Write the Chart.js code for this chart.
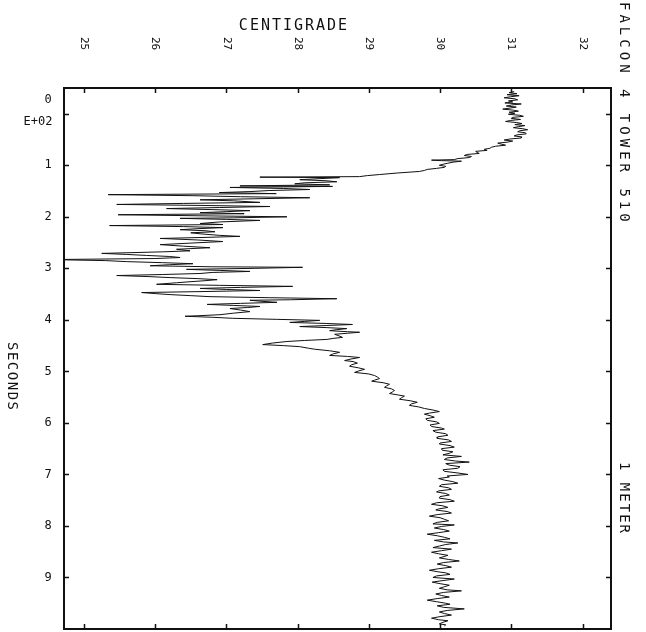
<!DOCTYPE html>
<html>
<head>
<meta charset="utf-8">
<script src="https://cdn.jsdelivr.net/npm/chart.js@4.4.1/dist/chart.umd.min.js"></script>
<style>
  body{margin:0;background:#fff}
  canvas{display:block}
</style>
</head>
<body>
<canvas id="myChart" width="646" height="632"></canvas>
<script>
// time in units of 1E+02 seconds top to bottom
// before the front passes
const secondsBefore = [-0.43,-0.41,-0.39,-0.37,-0.35,-0.33,-0.31,-0.29,-0.27,-0.25,
  -0.23,-0.21,-0.19,-0.17,-0.15,-0.13,-0.11,-0.09,-0.07,-0.05,
  -0.03,-0.01,0.01,0.03,0.05,0.07,0.09,0.11,0.13,0.15,
  0.17,0.19,0.21,0.23,0.25,0.27,0.29,0.31,0.33,0.35,
  0.37,0.39,0.41,0.43,0.45,0.47,0.49,0.51,0.53,0.55,
  0.57,0.59,0.61,0.63,0.65,0.67,0.69,0.71,0.73,0.75,
  0.77,0.79,0.81,0.83,0.85,0.87,0.89,0.90,0.91,0.92,
  0.94,0.96,0.98,1.00,1.02,1.04,1.06,1.08,1.10,1.12,
  1.15,1.18,1.20,1.22];
const centigradeBefore = [31.04,30.97,31.08,30.94,31.11,30.99,30.90,31.05,31.09,30.96,
  31.02,30.91,31.14,31.00,30.93,31.07,30.98,30.88,31.03,31.10,
  30.97,31.05,30.96,31.12,31.17,31.02,31.00,31.13,30.99,30.92,
  31.07,31.15,31.05,31.19,31.10,31.03,31.16,31.23,31.12,31.09,
  31.20,31.21,31.08,31.04,31.15,31.14,30.98,30.90,31.02,30.95,
  30.81,30.86,30.92,30.78,30.72,30.70,30.62,30.66,30.50,30.52,
  30.55,30.38,30.34,30.44,30.41,30.25,30.20,29.88,30.02,30.30,
  30.18,30.11,30.04,29.99,30.08,30.06,29.95,29.82,29.78,29.71,
  29.40,29.15,28.98,28.87];

// the cold, gusty part
const secondsGust = [1.23,1.24,1.26,1.28,1.30,1.32,1.34,1.36,1.38,1.40,
  1.41,1.43,1.45,1.47,1.49,1.51,1.53,1.55,1.57,1.59,
  1.61,1.63,1.65,1.67,1.69,1.72,1.74,1.76,1.78,1.80,
  1.82,1.84,1.86,1.88,1.90,1.92,1.94,1.96,1.98,2.00,
  2.02,2.03,2.05,2.07,2.10,2.13,2.15,2.17,2.19,2.21,
  2.23,2.25,2.27,2.29,2.31,2.33,2.36,2.38,2.40,2.42,
  2.45,2.48,2.51,2.54,2.57,2.60,2.63,2.66,2.68,2.71,
  2.73,2.75,2.77,2.79,2.81,2.83,2.85,2.87,2.89,2.91,
  2.93,2.95,2.97,2.98,3.00,3.02,3.04,3.06,3.08,3.10,
  3.12,3.14,3.16,3.18,3.20,3.22,3.24,3.26,3.28,3.31,
  3.33,3.35,3.37,3.39,3.41,3.43,3.45,3.47,3.49,3.51,
  3.53,3.55,3.57,3.59,3.61,3.62,3.64,3.66,3.68,3.70,
  3.72,3.74,3.76,3.78,3.81,3.84,3.87,3.90,3.92,3.93,
  3.95,3.97,3.99,4.01,4.03,4.05,4.07,4.09,4.11,4.13,
  4.15,4.17,4.19,4.21,4.23,4.24,4.26,4.28,4.31,4.34,
  4.36,4.38,4.40,4.42,4.45,4.48,4.50,4.52,4.55,4.57,
  4.60,4.63,4.66,4.69,4.71,4.73,4.76,4.79,4.81,4.84,
  4.87,4.90,4.93,4.96,4.99,5.02,5.05,5.08,5.11,5.14,
  5.17,5.19,5.22,5.25,5.28,5.31,5.34,5.37,5.40,5.43,
  5.46,5.48,5.51,5.54,5.57,5.60,5.63,5.66,5.69,5.72,
  5.75,5.78,5.81,5.83,5.86,5.89];
const centigradeGust = [27.47,28.59,28.30,28.03,28.40,28.55,28.10,27.96,28.45,27.19,
  28.49,27.05,27.80,28.17,27.60,27.33,26.90,27.70,25.34,26.53,
  27.20,28.17,27.40,26.63,27.10,27.47,26.40,25.46,26.70,27.61,
  26.90,26.16,26.80,27.33,27.00,26.63,27.25,25.48,26.60,27.85,
  27.10,26.35,27.00,27.47,26.90,26.63,26.95,25.36,26.40,26.95,
  26.60,26.35,26.70,26.84,26.50,26.63,26.90,27.19,26.70,26.07,
  26.60,26.95,26.50,26.07,26.40,26.77,26.30,26.49,26.10,25.25,
  25.60,25.88,26.20,26.35,26.00,24.50,25.30,25.60,26.10,26.53,
  26.20,25.93,26.80,28.07,27.40,26.44,26.90,27.33,26.80,26.63,
  26.10,25.46,25.90,26.21,26.60,26.87,26.70,26.49,26.30,26.02,
  26.90,27.93,27.20,26.63,27.00,27.47,26.70,25.81,26.00,26.21,
  26.50,26.77,27.60,28.55,27.90,27.33,27.50,27.71,27.20,26.73,
  27.10,27.47,27.30,27.05,27.20,27.33,27.10,26.91,26.60,26.42,
  26.80,27.09,27.70,28.31,28.10,27.89,28.40,28.77,28.40,28.03,
  28.40,28.69,28.55,28.45,28.70,28.87,28.70,28.52,28.58,28.63,
  28.50,28.41,28.10,27.85,27.65,27.51,27.80,28.03,28.15,28.24,
  28.45,28.59,28.50,28.45,28.70,28.87,28.75,28.66,28.78,28.84,
  28.76,28.73,28.85,28.94,28.86,28.80,29.00,29.08,29.12,29.15,
  29.08,29.04,29.20,29.29,29.25,29.22,29.32,29.36,29.33,29.29,
  29.42,29.50,29.46,29.43,29.58,29.68,29.60,29.57,29.70,29.78,
  29.90,29.99,29.85,29.78,29.86,29.92];

// recovered, steady part
const secondsAfter = [5.92,5.95,5.98,6.01,6.04,6.07,6.10,6.12,6.15,6.18,
  6.21,6.24,6.27,6.30,6.33,6.36,6.39,6.41,6.44,6.47,
  6.50,6.53,6.56,6.59,6.62,6.65,6.68,6.71,6.74,6.76,
  6.79,6.82,6.85,6.88,6.91,6.94,6.97,7.00,7.03,7.05,
  7.08,7.11,7.14,7.17,7.20,7.23,7.26,7.29,7.32,7.34,
  7.37,7.40,7.43,7.46,7.49,7.52,7.55,7.58,7.61,7.64,
  7.67,7.69,7.72,7.75,7.78,7.81,7.84,7.87,7.90,7.93,
  7.96,7.98,8.01,8.04,8.07,8.10,8.13,8.16,8.19,8.22,
  8.25,8.28,8.31,8.33,8.36,8.39,8.42,8.45,8.48,8.51,
  8.54,8.57,8.60,8.62,8.65,8.68,8.71,8.74,8.77,8.80,
  8.83,8.86,8.89,8.91,8.94,8.97,9.00,9.03,9.06,9.09,
  9.12,9.15,9.18,9.21,9.24,9.26,9.29,9.32,9.35,9.38,
  9.41,9.44,9.47,9.50,9.52,9.55,9.58,9.61,9.64,9.67,
  9.70,9.73,9.76,9.79,9.82,9.84,9.87,9.90,9.92,9.94];
const centigradeAfter = [29.80,29.82,29.95,29.99,29.86,29.88,30.02,30.06,29.90,29.94,
  30.08,30.11,29.97,29.96,30.12,30.16,30.00,29.99,30.14,30.20,
  30.02,30.03,30.18,30.13,30.04,30.30,30.10,30.06,30.22,30.41,
  30.08,30.13,30.28,30.25,30.04,30.06,30.24,30.39,30.10,30.13,
  29.98,30.06,30.18,30.25,30.02,29.99,30.12,30.16,29.98,29.95,
  30.08,30.13,30.00,29.99,30.14,30.20,29.95,29.88,30.04,30.11,
  29.98,29.94,30.10,30.16,29.96,29.85,30.00,30.06,30.12,29.96,
  29.90,30.20,30.02,29.92,30.05,30.13,29.98,29.82,29.96,30.06,
  30.14,29.92,30.05,30.25,30.08,29.99,29.90,30.16,30.02,29.88,
  29.98,30.11,30.04,29.99,30.12,30.27,30.05,29.96,30.08,30.16,
  29.98,29.85,29.97,30.08,30.14,29.95,29.90,30.20,30.04,29.89,
  30.00,30.13,30.06,29.99,30.10,30.30,30.05,29.94,30.02,30.13,
  29.96,29.82,29.95,30.08,30.14,29.96,30.05,30.34,30.10,29.99,
  30.06,30.16,30.00,29.88,29.98,30.11,30.04,29.99,30.08,30.06];

const tempTicks = [25, 26, 27, 28, 29, 30, 31, 32];
const timeTicks = [0, 1, 2, 3, 4, 5, 6, 7, 8, 9];
const tempTitle = "CENTIGRADE";
const timeTitle = "SECONDS";
const timeExponent = "E+02";
const plotTitle = "FALCON 4 TOWER 510";
const plotNote = "1 METER";

let seconds = secondsBefore.concat(secondsGust, secondsAfter);
let centigrade = centigradeBefore.concat(centigradeGust, centigradeAfter);
let points = seconds.map((s, i) => ({x: centigrade[i], y: s}));

const INK = "#111";
const MONO = "'DejaVu Sans Mono', 'Liberation Mono', monospace";

function textDown(ctx, str, x, y, font, spacing){
  ctx.save();
  ctx.translate(x, y);
  ctx.rotate(Math.PI / 2);
  ctx.font = font;
  ctx.letterSpacing = spacing + "px";
  ctx.textAlign = "left";
  ctx.textBaseline = "middle";
  ctx.fillText(str, 0, 0);
  ctx.restore();
}

// frame, inward ticks and all the plotter lettering
const framePlugin = {
  id: "frame",
  afterDatasetsDraw(chart){
    const ctx = chart.ctx;
    const a = chart.chartArea;
    const xs = chart.scales.x, ys = chart.scales.y;
    ctx.save();
    ctx.strokeStyle = INK;
    ctx.fillStyle = INK;
    ctx.lineWidth = 2;
    ctx.strokeRect(a.left, a.top, a.right - a.left, a.bottom - a.top);

    ctx.lineWidth = 1.5;
    ctx.beginPath();
    tempTicks.forEach(v => {
      const px = Math.round(xs.getPixelForValue(v)) + 0.5;
      ctx.moveTo(px, a.top); ctx.lineTo(px, a.top + 5);
      ctx.moveTo(px, a.bottom); ctx.lineTo(px, a.bottom - 5);
    });
    timeTicks.forEach(v => {
      const py = Math.round(ys.getPixelForValue(v)) + 0.5;
      ctx.moveTo(a.left, py); ctx.lineTo(a.left + 5, py);
      ctx.moveTo(a.right, py); ctx.lineTo(a.right - 5, py);
    });
    ctx.stroke();

    // temperature labels, written top to bottom
    tempTicks.forEach(v => {
      textDown(ctx, String(v), xs.getPixelForValue(v), 37, "11px " + MONO, 0);
    });

    // time labels
    ctx.font = "12px " + MONO;
    ctx.textAlign = "center";
    ctx.textBaseline = "middle";
    timeTicks.forEach(v => {
      const py = ys.getPixelForValue(v);
      if (v === 0) {
        ctx.fillText(String(v), 48, py - 14);
        ctx.fillText(timeExponent, 38, py + 8);
      } else {
        ctx.fillText(String(v), 48, py);
      }
    });

    ctx.font = "15px " + MONO;
    ctx.letterSpacing = "2px";
    ctx.textAlign = "center";
    ctx.fillText(tempTitle, 294, 26);
    ctx.letterSpacing = "0px";

    textDown(ctx, timeTitle, 12, 342, "14px " + MONO, 1.5);
    textDown(ctx, plotTitle, 624, 2, "14px " + MONO, 4);
    textDown(ctx, plotNote, 624, 462, "14px " + MONO, 2);
    ctx.restore();
  }
};

new Chart(document.getElementById("myChart"), {
  type: "scatter",
  data: {
    datasets: [{
      data: points,
      showLine: true,
      borderColor: INK,
      borderWidth: 1,
      pointRadius: 0,
      tension: 0
    }]
  },
  options: {
    responsive: false,
    animation: false,
    layout: { padding: { left: 64, top: 88, right: 35, bottom: 3 } },
    plugins: { legend: { display: false }, tooltip: { enabled: false } },
    scales: {
      x: {
        type: "linear",
        position: "top",
        min: 24.72,
        max: 32.4,
        grid: { display: false },
        border: { display: false },
        ticks: { display: false },
        afterFit: s => { s.height = 0; }
      },
      y: {
        type: "linear",
        reverse: true,
        min: -0.5,
        max: 10,
        grid: { display: false },
        border: { display: false },
        ticks: { display: false },
        afterFit: s => { s.width = 0; }
      }
    }
  },
  plugins: [framePlugin]
});
</script>
</body>
</html>
